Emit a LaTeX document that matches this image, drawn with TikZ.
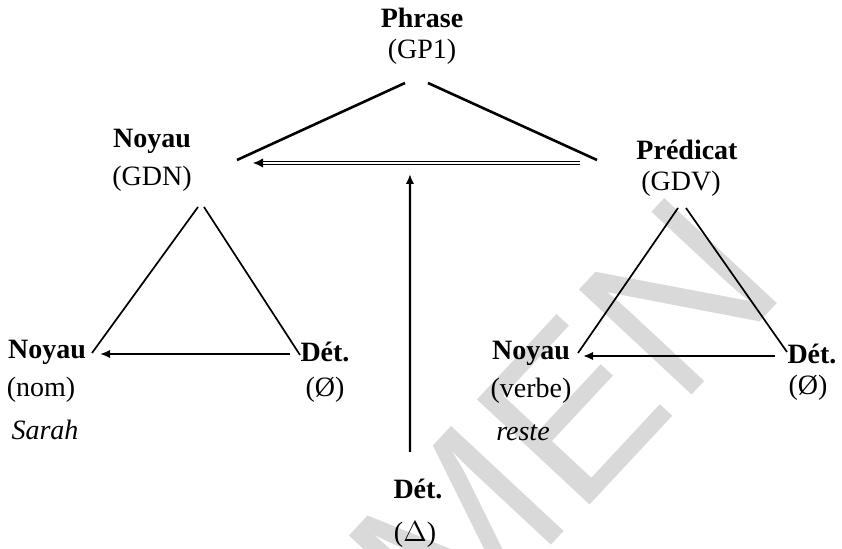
\documentclass[tikz,border=0pt]{standalone}
\usepackage{fontspec}
\setmainfont{Liberation Serif}
\newfontfamily\wmfont{Liberation Sans}
\usetikzlibrary{arrows.meta}

\begin{document}
\begin{tikzpicture}[x=0.5pt,y=-0.5pt,style=thick,>={Latex[length=5pt,width=4.2pt]},
    font=\fontsize{14}{16}\selectfont,
    tri/.style={line width=0.85pt},
    top/.style={line width=1.3pt},
    arr/.style={->,line width=1.1pt}]

    \useasboundingbox (0,0) rectangle (842,549);
    \clip (0,0) rectangle (842,549);

    % filigrane
    \node[rotate=47,anchor=base east,text=black!15,inner sep=0pt,
        font=\wmfont\fontsize{112}{112}\selectfont] (WM) at (790,290) {SPECIMEN};

    \begin{scope}[node distance=17pt]
        \draw (422,18) node (P) {\textbf{Phrase}};
        \node[below of=P] (GP) {(GP1)};
    \end{scope}

    \begin{scope}[node distance=19pt]
        \draw (152,141) node (N) {\textbf{Noyau}};
        \node[below of=N] (GDN) {(GDN)};
        \draw (687,150) node (PR) {\textbf{Prédicat}};
        \node[below of=PR,xshift=-3pt,node distance=17pt] (GDV) {(GDV)};
    \end{scope}

    \begin{scope}[node distance=19pt]
        \draw (47,352) node (LN) {\textbf{Noyau}};
        \node[below of=LN,xshift=-3pt] (NOM) {(nom)};
        \node[below of=NOM,xshift=2pt,node distance=20pt] (SAR) {\textit{Sarah}};
        \draw (325,352) node (LD) {\textbf{Dét.}};
        \node[below of=LD] (PHI) {(Ø)};
    \end{scope}

    \begin{scope}[node distance=19pt]
        \draw (531,353) node (RN) {\textbf{Noyau}};
        \node[below of=RN] (VERB) {(verbe)};
        \node[below of=VERB,xshift=-4pt,node distance=21pt] (RES) {\textit{reste}};
        \draw (812,354) node (RD) {\textbf{Dét.}};
        \node[below of=RD,xshift=-2pt,node distance=17pt] (PHII) {(Ø)};
    \end{scope}

    \begin{scope}[node distance=23pt]
        \draw (418,489) node (BD) {\textbf{Dét.}};
        \node[below of=BD,xshift=-1.5pt] (DEL) {($\Delta$)};
    \end{scope}

    \draw[top] ([shift={(-17,31)}]GP.center) to ([shift={(85,-19)}]GDN.center);
    \draw[top] ([shift={(6,31)}]GP.center) to ([shift={(-84,-24)}]GDV.center);
    \draw[{Latex[length=5pt,width=4.6pt]}-,double,line width=0.6pt,double distance=1.2pt]
        ([shift={(101,-16)}]GDN.center) to node[pos=0.48,coordinate] (MID) {} ([shift={(-101,-21)}]GDV.center);
    \draw[arr] ([shift={(-8,-37)}]BD.center) to ([shift={(0,11)}]MID);

    \draw[tri] ([shift={(46,28)}]GDN.center) to ([shift={(45,1)}]LN.center);
    \draw[tri] ([shift={(52,28)}]GDN.center) to ([shift={(-25,3)}]LD.center);
    \draw[arr] ([shift={(-35,2)}]LD.center) to ([shift={(53,2)}]LN.center);

    \draw[tri] ([shift={(-3,24)}]GDV.center) to ([shift={(47,0)}]RN.center);
    \draw[tri] ([shift={(5,24)}]GDV.center) to ([shift={(-25,-2)}]RD.center);
    \draw[arr] ([shift={(-37,2)}]RD.center) to ([shift={(52,3)}]RN.center);

\end{tikzpicture}
\end{document}
